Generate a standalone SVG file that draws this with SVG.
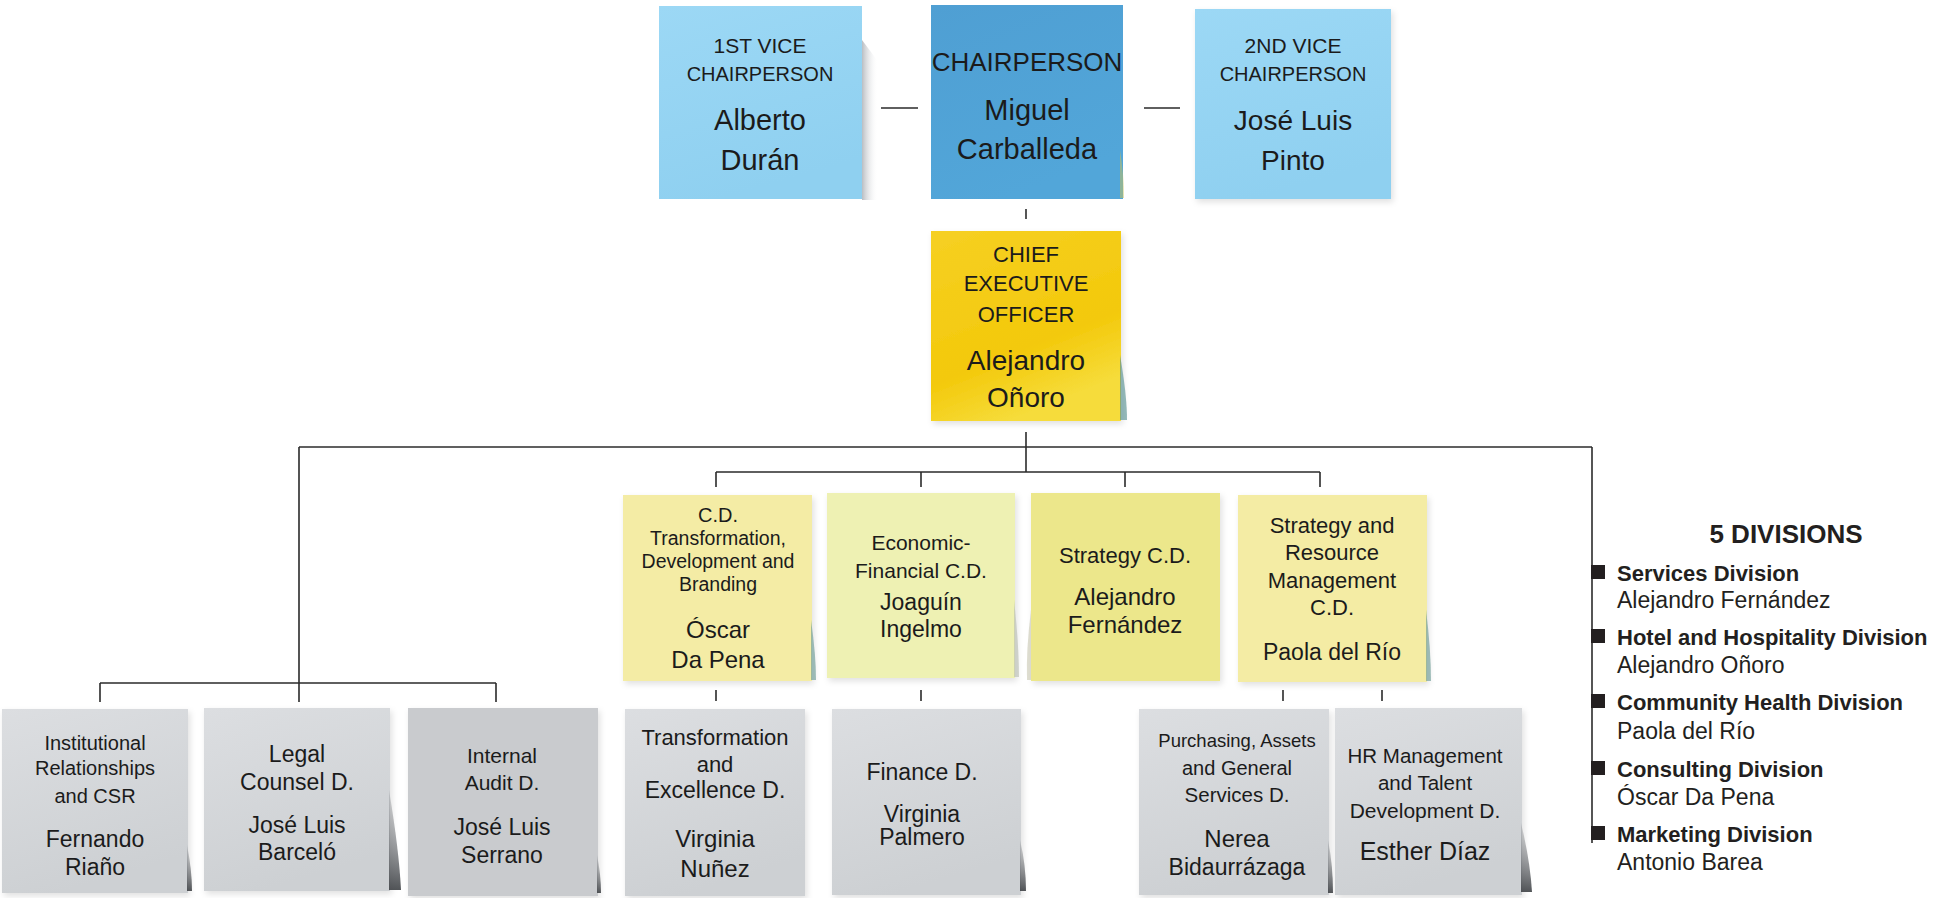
<svg xmlns="http://www.w3.org/2000/svg" width="1933" height="898" viewBox="0 0 1933 898">
<defs>
<style>
.h{font-family:"Liberation Sans",Arial,sans-serif;fill:#1b1b1b;text-anchor:middle}
.lb{font-family:"Liberation Sans",Arial,sans-serif;font-weight:bold;fill:#231f20;font-size:22px}
.lr{font-family:"Liberation Sans",Arial,sans-serif;fill:#231f20;font-size:23px}
.con{stroke:#2b2b2b;stroke-width:1.6;fill:none}
.grey{fill:url(#gGrey)}
.curlG{fill:url(#gCurlG)}
.curlY{fill:#6f9c97;opacity:.65}
</style>
<linearGradient id="gGrey" x1="0" y1="0" x2="0.3" y2="1">
<stop offset="0" stop-color="#dcdee1"/><stop offset="1" stop-color="#cdd0d3"/>
</linearGradient>
<linearGradient id="gCurlG" x1="0" y1="0" x2="0" y2="1">
<stop offset="0" stop-color="#8a8d91" stop-opacity="0.3"/><stop offset="1" stop-color="#3e4145" stop-opacity="0.9"/>
</linearGradient>
<linearGradient id="gBlue" x1="0" y1="0" x2="0.3" y2="1">
<stop offset="0" stop-color="#9cd8f5"/><stop offset="1" stop-color="#8fd0f0"/>
</linearGradient>
<linearGradient id="gChair" x1="0" y1="0" x2="0.4" y2="1">
<stop offset="0" stop-color="#4f9fd3"/><stop offset="1" stop-color="#52a6d9"/>
</linearGradient>
<linearGradient id="gCeo" x1="0" y1="0" x2="0.4" y2="1">
<stop offset="0" stop-color="#f6d023"/><stop offset="0.7" stop-color="#f3c90b"/><stop offset="1" stop-color="#f6dc3a"/>
</linearGradient>
<linearGradient id="gSide" x1="0" y1="0" x2="1" y2="0">
<stop offset="0" stop-color="#b9bdc2"/><stop offset="1" stop-color="#ffffff" stop-opacity="0"/>
</linearGradient>
<filter id="sh" x="-10%" y="-10%" width="125%" height="125%">
<feDropShadow dx="2" dy="3" stdDeviation="3" flood-color="#000" flood-opacity="0.12"/>
</filter>
</defs>
<rect width="1933" height="898" fill="#ffffff"/>

<g id="connectors">
<path class="con" d="M881 108H918M1144 108H1180"/>
<path class="con" d="M1026 209V219"/>
<path class="con" d="M1026 432V472"/>
<path class="con" d="M299 447H1592" stroke-width="2"/>
<path class="con" d="M299 447V702M100 683H496M100 683V702M496 683V702"/>
<path class="con" d="M1592 447V843"/>
<path class="con" d="M716 472H1320M716 472V487M921 472V487M1125 472V487M1320 472V487"/>
<path class="con" d="M716 690V701M921 690V701M1283 690V701M1382 690V701"/>
</g>

<g id="vice1">
<path d="M862 40 L877 60 L878 200 L862 200 Z" fill="url(#gSide)"/>
<rect x="659" y="6" width="203" height="193" fill="url(#gBlue)"/>
<text class="h" x="760" y="53" font-size="21">1ST VICE</text>
<text class="h" x="760" y="81" font-size="20">CHAIRPERSON</text>
<text class="h" x="760" y="130" font-size="29">Alberto</text>
<text class="h" x="760" y="170" font-size="29">Durán</text>
</g>

<g id="chair">
<rect x="931" y="5" width="192" height="194" fill="url(#gChair)"/>
<path d="M1120 150 Q1124 175 1124 198 L1120 198 Z" fill="#c9c25a" opacity=".5"/>
<text class="h" x="1027" y="71" font-size="26">CHAIRPERSON</text>
<text class="h" x="1027" y="120" font-size="29">Miguel</text>
<text class="h" x="1027" y="159" font-size="29">Carballeda</text>
</g>

<g id="vice2">
<rect x="1195" y="9" width="196" height="190" fill="url(#gBlue)" filter="url(#sh)"/>
<text class="h" x="1293" y="53" font-size="21">2ND VICE</text>
<text class="h" x="1293" y="81" font-size="20">CHAIRPERSON</text>
<text class="h" x="1293" y="130" font-size="28">José Luis</text>
<text class="h" x="1293" y="170" font-size="28">Pinto</text>
</g>

<g id="ceo">
<rect x="931" y="231" width="190" height="190" fill="url(#gCeo)" filter="url(#sh)"/>
<path d="M1120 355 Q1127 395 1127 420 L1120 420 Z" fill="#4f8a8c" opacity=".6"/>
<text class="h" x="1026" y="262" font-size="22">CHIEF</text>
<text class="h" x="1026" y="291" font-size="22">EXECUTIVE</text>
<text class="h" x="1026" y="322" font-size="22">OFFICER</text>
<text class="h" x="1026" y="370" font-size="28">Alejandro</text>
<text class="h" x="1026" y="407" font-size="28">Oñoro</text>
</g>

<g id="cd-transformation">
<rect x="623" y="495" width="189" height="186" fill="#f4eca5" filter="url(#sh)"/>
<path class="curlY" d="M811 620 Q816 655 816 680 L811 680 Z"/>
<text class="h" x="718" y="522" font-size="20">C.D.</text>
<text class="h" x="718" y="545" font-size="19.5">Transformation,</text>
<text class="h" x="718" y="568" font-size="19.5">Development and</text>
<text class="h" x="718" y="591" font-size="19.5">Branding</text>
<text class="h" x="718" y="638" font-size="24">Óscar</text>
<text class="h" x="718" y="668" font-size="24">Da Pena</text>
</g>

<g id="cd-economic">
<rect x="827" y="493" width="188" height="185" fill="#eef1b3" filter="url(#sh)"/>
<path d="M1014 600 Q1019 645 1019 677 L1014 677 Z" fill="#b8bdb0" opacity=".6"/>
<text class="h" x="921" y="550" font-size="21">Economic-</text>
<text class="h" x="921" y="578" font-size="21">Financial C.D.</text>
<text class="h" x="921" y="610" font-size="23">Joaguín</text>
<text class="h" x="921" y="637" font-size="23">Ingelmo</text>
</g>

<g id="cd-strategy">
<rect x="1031" y="493" width="189" height="188" fill="#ece78b" filter="url(#sh)"/>
<path d="M1031 610 Q1026 650 1027 680 L1031 680 Z" fill="#c8c6b0" opacity=".6"/>
<text class="h" x="1125" y="563" font-size="22">Strategy C.D.</text>
<text class="h" x="1125" y="605" font-size="24">Alejandro</text>
<text class="h" x="1125" y="633" font-size="24">Fernández</text>
</g>

<g id="cd-resources">
<rect x="1238" y="495" width="189" height="187" fill="#f4eca4" filter="url(#sh)"/>
<path class="curlY" d="M1426 610 Q1431 650 1431 681 L1426 681 Z"/>
<text class="h" x="1332" y="533" font-size="22">Strategy and</text>
<text class="h" x="1332" y="560" font-size="22">Resource</text>
<text class="h" x="1332" y="588" font-size="22">Management</text>
<text class="h" x="1332" y="615" font-size="22">C.D.</text>
<text class="h" x="1332" y="660" font-size="23">Paola del Río</text>
</g>

<g id="d-institutional">
<rect x="2" y="709" width="186" height="184" class="grey" filter="url(#sh)"/>
<path class="curlG" d="M187 845 Q192 870 192 891 L187 891 Z"/>
<text class="h" x="95" y="750" font-size="20">Institutional</text>
<text class="h" x="95" y="775" font-size="20">Relationships</text>
<text class="h" x="95" y="803" font-size="20">and CSR</text>
<text class="h" x="95" y="847" font-size="23">Fernando</text>
<text class="h" x="95" y="875" font-size="23">Riaño</text>
</g>

<g id="d-legal">
<rect x="204" y="708" width="186" height="183" class="grey" filter="url(#sh)"/>
<path class="curlG" d="M389 790 Q399 850 401 890 L389 890 Z"/>
<text class="h" x="297" y="762" font-size="23">Legal</text>
<text class="h" x="297" y="790" font-size="23">Counsel D.</text>
<text class="h" x="297" y="833" font-size="23">José Luis</text>
<text class="h" x="297" y="860" font-size="23">Barceló</text>
</g>

<g id="d-audit">
<rect x="408" y="708" width="190" height="188" fill="#c9cbce" filter="url(#sh)"/>
<path class="curlG" d="M597 855 Q601 875 601 893 L597 893 Z"/>
<text class="h" x="502" y="763" font-size="21">Internal</text>
<text class="h" x="502" y="790" font-size="21">Audit D.</text>
<text class="h" x="502" y="835" font-size="23">José Luis</text>
<text class="h" x="502" y="863" font-size="23">Serrano</text>
</g>

<g id="d-excellence">
<rect x="625" y="709" width="180" height="187" class="grey" filter="url(#sh)"/>
<text class="h" x="715" y="745" font-size="22">Transformation</text>
<text class="h" x="715" y="772" font-size="22">and</text>
<text class="h" x="715" y="798" font-size="23">Excellence D.</text>
<text class="h" x="715" y="847" font-size="24">Virginia</text>
<text class="h" x="715" y="877" font-size="24">Nuñez</text>
</g>

<g id="d-finance">
<rect x="832" y="709" width="189" height="186" class="grey" filter="url(#sh)"/>
<path class="curlG" d="M1020 840 Q1026 865 1026 891 L1020 891 Z"/>
<text class="h" x="922" y="780" font-size="23">Finance D.</text>
<text class="h" x="922" y="822" font-size="23">Virginia</text>
<text class="h" x="922" y="845" font-size="23">Palmero</text>
</g>

<g id="d-purchasing">
<rect x="1139" y="709" width="190" height="186" class="grey" filter="url(#sh)"/>
<path class="curlG" d="M1328 840 Q1333 865 1333 893 L1328 893 Z"/>
<text class="h" x="1237" y="747" font-size="18.5">Purchasing, Assets</text>
<text class="h" x="1237" y="775" font-size="20">and General</text>
<text class="h" x="1237" y="802" font-size="20.5">Services D.</text>
<text class="h" x="1237" y="847" font-size="24">Nerea</text>
<text class="h" x="1237" y="875" font-size="23">Bidaurrázaga</text>
</g>

<g id="d-hr">
<rect x="1335" y="708" width="187" height="187" class="grey" filter="url(#sh)"/>
<path class="curlG" d="M1521 823 Q1530 860 1532 892 L1521 892 Z"/>
<text class="h" x="1425" y="763" font-size="20.5">HR Management</text>
<text class="h" x="1425" y="790" font-size="20.5">and Talent</text>
<text class="h" x="1425" y="818" font-size="21">Development D.</text>
<text class="h" x="1425" y="860" font-size="25">Esther Díaz</text>
</g>

<g id="legend">
<text x="1786" y="543" font-family="Liberation Sans, Arial, sans-serif" font-weight="bold" font-size="26" fill="#231f20" text-anchor="middle">5 DIVISIONS</text>
<rect x="1591" y="565" width="14" height="14" fill="#231f20"/>
<text class="lb" x="1617" y="581">Services Division</text>
<text class="lr" x="1617" y="608">Alejandro Fernández</text>
<rect x="1591" y="629" width="14" height="14" fill="#231f20"/>
<text class="lb" x="1617" y="645">Hotel and Hospitality Division</text>
<text class="lr" x="1617" y="673">Alejandro Oñoro</text>
<rect x="1591" y="694" width="14" height="14" fill="#231f20"/>
<text class="lb" x="1617" y="710">Community Health Division</text>
<text class="lr" x="1617" y="739">Paola del Río</text>
<rect x="1591" y="761" width="14" height="14" fill="#231f20"/>
<text class="lb" x="1617" y="777">Consulting Division</text>
<text class="lr" x="1617" y="805">Óscar Da Pena</text>
<rect x="1591" y="826" width="14" height="14" fill="#231f20"/>
<text class="lb" x="1617" y="842">Marketing Division</text>
<text class="lr" x="1617" y="870">Antonio Barea</text>
</g>
</svg>
